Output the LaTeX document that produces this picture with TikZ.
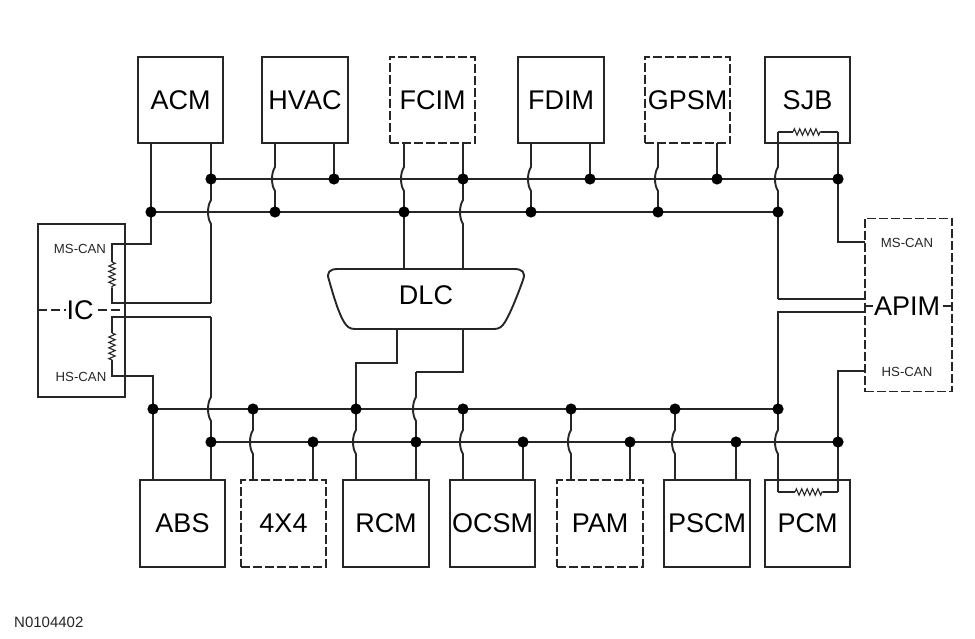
\documentclass[tikz,border=0pt]{standalone}
\usepackage{fontspec}
\setmainfont{Liberation Sans}
\usetikzlibrary{calc,decorations.pathmorphing}
\definecolor{ink}{HTML}{262626}
\tikzset{
  wire/.style={draw=ink,line width=1.9pt,line join=miter},
  modbox/.style={draw=ink,line width=1.9pt,minimum width=85.5pt,minimum height=86.5pt,inner sep=0pt,outer sep=0pt,font=\fontsize{27}{30}\selectfont,text=black},
  optbox/.style={modbox,dash pattern=on 9pt off 3pt},
  sidebox/.style={draw=ink,line width=1.9pt,minimum width=87pt,minimum height=173pt,inner sep=0pt,outer sep=0pt},
  bigtxt/.style={inner sep=0pt,outer sep=1pt,font=\fontsize{27}{30}\selectfont,text=black},
  smalltxt/.style={inner sep=0pt,font=\fontsize{13.2}{15}\selectfont,text=ink},
  centerdash/.style={draw=ink,line width=1.9pt,dash pattern=on 9pt off 4pt},
  res/.style={draw=ink,line width=1.1pt,decorate,decoration={zigzag,segment length=5.4pt,amplitude=3.2pt}}
}
\newcommand{\jumpv}[3]{\draw[wire] (#1) -- ($(#2)+(0,-12)$) .. controls ($(#2)+(-4,-6)$) and ($(#2)+(-4,6)$) .. ($(#2)+(0,12)$) -- (#3);}
\newcommand{\jdot}[1]{\fill[black] (#1) circle (5.6pt);}
\begin{document}
\begin{tikzpicture}[x=1pt,y=-1pt]
\useasboundingbox (0,0) rectangle (975,639);
% modules
\node[modbox] (ACM) at (180.5,100) {ACM};
\node[modbox] (HVAC) at (305,100) {HVAC};
\node[optbox] (FCIM) at (432.5,100) {FCIM};
\node[modbox] (FDIM) at (561,100) {FDIM};
\node[optbox] (GPSM) at (687.5,100) {GPSM};
\node[modbox] (SJB) at (807.5,100) {SJB};
\node[modbox] (ABS) at (182.5,523.5) {ABS};
\node[optbox] (X44) at (283.5,523.5) {4X4};
\node[modbox] (RCM) at (386,523.5) {RCM};
\node[modbox] (OCSM) at (492.5,523.5) {OCSM};
\node[optbox] (PAM) at (600,523.5) {PAM};
\node[modbox] (PSCM) at (707,523.5) {PSCM};
\node[modbox] (PCM) at (807.5,523.5) {PCM};
\node[sidebox] (ICB) at (81.5,310.5) {};
\node[sidebox,dash pattern=on 9pt off 3pt] (APB) at (908.5,305) {};
\node[bigtxt] (IC) at (80,310) {IC};
\node[bigtxt] (APIM) at (907,306) {APIM};
\node[smalltxt] (ms1) at (80,249) {MS-CAN};
\node[smalltxt] (hs1) at (81,377) {HS-CAN};
\node[smalltxt] (ms2) at (907,243) {MS-CAN};
\node[smalltxt] (hs2) at (907,372) {HS-CAN};
\node[inner sep=0pt,anchor=west,font=\fontsize{15}{17}\selectfont,text=ink] (code) at (14,622) {N0104402};
\draw[centerdash] (ICB.west |- IC) -- (IC.west);
\draw[centerdash] (IC.east) ++(3,0) -- (ICB.east |- IC);
\draw[wire] (APB.west |- APIM) -- (APIM.west);
\draw[wire] (APIM.east) ++(2,0) -- (APB.east |- APIM);
% DLC connector
\node[bigtxt] (DLC) at (426,295) {DLC};
\draw[wire] (338,269) -- (514,269) .. controls (522,269) and (526,272) .. (523,280)
  .. controls (518,294) and (511,312) .. (505,322) .. controls (502,327) and (499,329) .. (494,329)
  -- (355,329) .. controls (350,329) and (347,327) .. (344,322)
  .. controls (338,312) and (333,294) .. (329,280) .. controls (326,272) and (330,269) .. (338,269) -- cycle;
% bus ends
\coordinate (T1L) at (211,179); \coordinate (T1R) at (838,179);
\coordinate (T2L) at (151,212); \coordinate (T2R) at (778,212);
\coordinate (B1L) at (153,409); \coordinate (B1R) at (778,409);
\coordinate (B2L) at (211,442); \coordinate (B2R) at (838,442);
\draw[wire] (T1L) -- (T1R);
\draw[wire] (T2L) -- (T2R);
\draw[wire] (B1L) -- (B1R);
\draw[wire] (B2L) -- (B2R);
% top modules: jump over the upper bus, land on the lower; then land on the upper
\foreach \m/\xa/\xb in {HVAC/275/334,FDIM/531/590,GPSM/658/717}{
  \coordinate (a) at (\xa,179); \coordinate (b) at (\xa,212); \coordinate (c) at (\xb,179);
  \jumpv{a |- \m.south}{a}{b}
  \draw[wire] (c |- \m.south) -- (c);
  \jdot{b}\jdot{c}
}
% bottom modules: land on the upper bus and jump the lower; land on the lower
\foreach \m/\xa/\xb in {X44/253/313,OCSM/463/523,PAM/571/630,PSCM/675/736}{
  \coordinate (a) at (\xa,409); \coordinate (b) at (\xa,442); \coordinate (c) at (\xb,442);
  \jumpv{a}{b}{b |- \m.north}
  \draw[wire] (c) -- (c |- \m.north);
  \jdot{a}\jdot{c}
}
% ACM and IC (MS-CAN)
\coordinate (acmA) at (151,212); \coordinate (acmB) at (211,179); \coordinate (acmC) at (211,212);
\coordinate (m1) at (112,244); \coordinate (m2) at (112,262); \coordinate (m3) at (112,288); \coordinate (m4) at (112,303); \coordinate (m5) at (211,303);
\draw[wire] (acmA |- ACM.south) -- (acmA) -- (151,244) -- (m1) -- (m2);
\draw[res] (m2) -- (m3);
\draw[wire] (m3) -- (m4) -- (m5);
\jumpv{acmB |- ACM.south}{acmC}{m5}
\jdot{acmA}\jdot{acmB}
% FCIM and DLC
\coordinate (fa) at (404,179); \coordinate (fb) at (404,212); \coordinate (fc) at (463,179); \coordinate (fd) at (463,212);
\coordinate (da) at (404,269); \coordinate (db) at (463,269);
\jumpv{fa |- FCIM.south}{fa}{da}
\jumpv{fc |- FCIM.south}{fd}{db}
\jdot{fb}\jdot{fc}
% SJB and APIM
\coordinate (sa) at (778,132); \coordinate (sb) at (838,132); \coordinate (sc) at (778,179); \coordinate (sd) at (838,179);
\coordinate (r1) at (793,132); \coordinate (r2) at (821,132);
\draw[wire,line width=1.4pt] (sa) -- (r1);
\draw[res] (r1) -- (r2);
\draw[wire,line width=1.4pt] (r2) -- (sb);
\coordinate (se) at (778,299); \coordinate (sf) at (838,242);
\jumpv{sa}{sc}{se}
\draw[wire] (se) -- (se -| APB.west);
\draw[wire] (sb) -- (sf) -- (sf -| APB.west);
\jdot{T2R}\jdot{sd}
% IC (HS-CAN) and ABS
\coordinate (h1) at (112,317); \coordinate (h2) at (112,333); \coordinate (h3) at (112,360); \coordinate (h4) at (112,376); \coordinate (h5) at (153,376);
\coordinate (h6) at (211,317); \coordinate (h7) at (211,409); \coordinate (h8) at (211,442);
\draw[wire] (h2) -- (h1) -- (h6);
\jumpv{h6}{h7}{h8 |- ABS.north}
\draw[res] (h2) -- (h3);
\draw[wire] (h3) -- (h4) -- (h5) -- (h5 |- ABS.north);
\jdot{B1L}\jdot{h8}
% DLC to RCM
\coordinate (d1) at (397,329); \coordinate (d2) at (397,363); \coordinate (d3) at (356,363); \coordinate (d4) at (356,409); \coordinate (d5) at (356,442);
\coordinate (d6) at (463,329); \coordinate (d7) at (463,372); \coordinate (d8) at (416,372); \coordinate (d9) at (416,409); \coordinate (d10) at (416,442);
\draw[wire] (d1) -- (d2) -- (d3) -- (d4);
\jumpv{d4}{d5}{d5 |- RCM.north}
\draw[wire] (d6) -- (d7) -- (d8);
\jumpv{d8}{d9}{d10 |- RCM.north}
\jdot{d4}\jdot{d10}
% APIM to PCM
\coordinate (p1) at (778,312); \coordinate (p2) at (778,442); \coordinate (p3) at (778,492); \coordinate (p4) at (795,492); \coordinate (p5) at (823,492); \coordinate (p6) at (838,492); \coordinate (p7) at (838,371);
\draw[wire] (p1 -| APB.west) -- (p1) -- (B1R);
\jumpv{B1R}{p2}{p3}
\draw[wire,line width=1.4pt] (p3) -- (p4);
\draw[res] (p4) -- (p5);
\draw[wire,line width=1.4pt] (p5) -- (p6);
\draw[wire] (p6) -- (p7) -- (p7 -| APB.west);
\jdot{B1R}\jdot{B2R}
\end{tikzpicture}
\end{document}
